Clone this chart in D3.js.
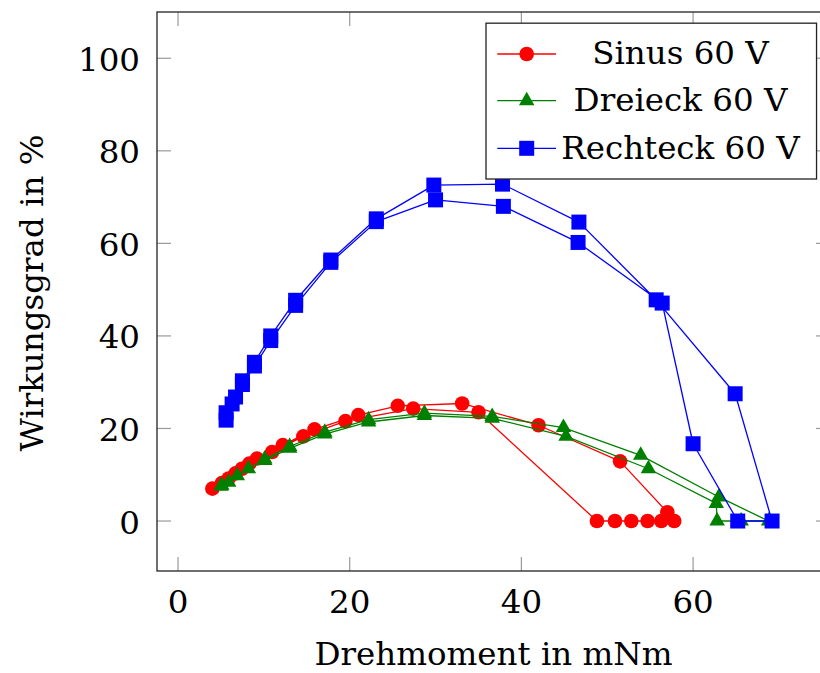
<!DOCTYPE html>
<html>
<head>
<meta charset="utf-8">
<script src="https://cdn.jsdelivr.net/npm/d3@7"></script>
<style>
  html, body { margin: 0; padding: 0; background: #fff; }
  svg { display: block; }
  text { font-family: "DejaVu Serif", serif; fill: #000; }
</style>
</head>
<body>
<svg id="chart" width="820" height="673"></svg>
<script>
// Wirkungsgrad über Drehmoment, je Signalform bei 60 V (Hin- und Rückmessung)
const sinusTorque = [4.0, 5.9, 7.45, 9.2, 12.2, 15.9, 21.0, 25.6, 33.1, 42.0, 51.5, 57.0,
                     57.8, 56.3, 54.7, 52.8, 50.9, 48.8, 35.0, 27.4, 19.5, 14.6, 10.95, 8.3, 6.7, 5.1];
const sinusEff    = [7.0, 9.2, 11.3, 13.5, 16.4, 19.8, 22.9, 24.9, 25.4, 20.7, 12.9, 1.9,
                     0, 0, 0, 0, 0, 0, 23.5, 24.3, 21.6, 18.3, 14.9, 12.4, 10.3, 8.2];

const dreieckTorque = [5.1, 6.9, 10.1, 13.0, 17.1, 22.2, 28.7, 36.6, 44.9, 53.9, 63.0, 68.8,
                       65.6, 62.8, 62.7, 54.8, 45.2, 36.6, 28.7, 22.2, 17.1, 13.0, 10.1, 8.2, 5.9, 5.0];
const dreieckEff    = [7.7, 9.8, 13.4, 16.1, 19.2, 21.9, 23.3, 22.6, 20.2, 14.2, 5.2, 0,
                       0, 0, 3.8, 11.3, 18.3, 22.2, 22.8, 21.4, 18.8, 15.7, 13.1, 11.3, 8.4, 7.5];

const rechteckTorque = [5.6, 6.3, 7.5, 8.9, 10.8, 13.7, 17.8, 23.1, 29.8, 37.8, 46.7, 55.7, 64.9, 69.2,
                        65.2, 60.0, 56.4, 46.6, 37.9, 30.0, 23.1, 17.8, 13.7, 10.8, 8.9, 7.5, 6.7, 5.6];
const rechteckEff    = [23.4, 25.3, 30.3, 34.3, 40.0, 47.7, 56.4, 65.3, 72.6, 72.8, 64.6, 47.8, 27.5, 0,
                        0, 16.7, 47.1, 60.2, 68.0, 69.4, 64.7, 55.9, 46.6, 39.0, 33.5, 29.5, 26.8, 21.8];

const seriesNames  = ["Sinus 60 V", "Dreieck 60 V", "Rechteck 60 V"];
const seriesColors = ["#ff0000", "#008000", "#0000ff"];
const seriesMarks  = ["circle", "triangle", "square"];

const xTicks = [0, 20, 40, 60];
const yTicks = [0, 20, 40, 60, 80, 100];
const xLabel = "Drehmoment in mNm";
const yLabel = "Wirkungsgrad in %";

// ---- layout ----
const plot = { left: 157, top: 12, right: 830, bottom: 571 };
const fontSize = 32.5;

const x = d3.scaleLinear().domain([-2.45, 75.95]).range([plot.left, plot.right]);
const y = d3.scaleLinear().domain([-10.8, 110]).range([plot.bottom, plot.top]);

const svg = d3.select("#chart");

const series = [
  { name: seriesNames[0], color: seriesColors[0], mark: seriesMarks[0],
    pts: sinusTorque.map((t, i) => [t, sinusEff[i]]) },
  { name: seriesNames[1], color: seriesColors[1], mark: seriesMarks[1],
    pts: dreieckTorque.map((t, i) => [t, dreieckEff[i]]) },
  { name: seriesNames[2], color: seriesColors[2], mark: seriesMarks[2],
    pts: rechteckTorque.map((t, i) => [t, rechteckEff[i]]) }
];

const symbolFor = {
  circle: d3.symbol().type(d3.symbolCircle).size(Math.PI * 7.3 * 7.3),
  square: d3.symbol().type(d3.symbolSquare).size(15 * 15),
  triangle: d3.symbol().type(d3.symbolTriangle).size(Math.sqrt(3) / 4 * 15.5 * 15.5)
};

// ---- ticks (inward, on all four sides) ----
const tickLen = 14;
const ticks = svg.append("g").attr("stroke", "#9a9a9a").attr("stroke-width", 1.2);
xTicks.forEach(v => {
  ticks.append("line").attr("x1", x(v)).attr("x2", x(v)).attr("y1", plot.bottom).attr("y2", plot.bottom - tickLen);
  ticks.append("line").attr("x1", x(v)).attr("x2", x(v)).attr("y1", plot.top).attr("y2", plot.top + tickLen);
});
yTicks.forEach(v => {
  ticks.append("line").attr("x1", plot.left).attr("x2", plot.left + tickLen).attr("y1", y(v)).attr("y2", y(v));
  ticks.append("line").attr("x1", plot.right).attr("x2", plot.right - tickLen).attr("y1", y(v)).attr("y2", y(v));
});

// ---- tick labels ----
svg.append("g").selectAll("text").data(xTicks).join("text")
  .attr("x", d => x(d)).attr("y", plot.bottom + 42.3)
  .attr("text-anchor", "middle").attr("font-size", fontSize)
  .text(d => d);
svg.append("g").selectAll("text").data(yTicks).join("text")
  .attr("x", 140).attr("y", d => y(d) + 12.5)
  .attr("text-anchor", "end").attr("font-size", fontSize)
  .text(d => d);

// ---- axis titles ----
svg.append("text")
  .attr("x", (plot.left + plot.right) / 2).attr("y", 664.5)
  .attr("text-anchor", "middle").attr("font-size", fontSize)
  .text(xLabel);
svg.append("text")
  .attr("transform", `translate(42.5, ${(plot.top + plot.bottom) / 2 + 1.5}) rotate(-90)`)
  .attr("text-anchor", "middle").attr("font-size", fontSize)
  .text(yLabel);

// ---- data: line first, then its markers, series drawn in order ----
const line = d3.line().x(d => x(d[0])).y(d => y(d[1]));
series.forEach(s => {
  const g = svg.append("g");
  g.append("path").datum(s.pts)
    .attr("d", line).attr("fill", "none")
    .attr("stroke", s.color).attr("stroke-width", 1.3).attr("stroke-linejoin", "round");
  g.selectAll("path.mark").data(s.pts).join("path")
    .attr("class", "mark")
    .attr("d", symbolFor[s.mark])
    .attr("transform", d => `translate(${x(d[0])},${y(d[1])})`)
    .attr("fill", s.color);
});

// ---- frame ----
svg.append("rect")
  .attr("x", plot.left).attr("y", plot.top)
  .attr("width", plot.right - plot.left).attr("height", plot.bottom - plot.top)
  .attr("fill", "none").attr("stroke", "#222").attr("stroke-width", 1.3);

// ---- legend (north east) ----
const W = plot.right - plot.left, H = plot.bottom - plot.top;
const legRight = plot.right - 0.02 * W;
const legTop = plot.top + 0.02 * H;
const legLeft = 486, legBottom = 179;
const legend = svg.append("g");
legend.append("rect")
  .attr("x", legLeft).attr("y", legTop)
  .attr("width", legRight - legLeft).attr("height", legBottom - legTop)
  .attr("fill", "#fff").attr("stroke", "#222").attr("stroke-width", 1.3);
const rowY = [54, 100.7, 148.3];
series.forEach((s, i) => {
  const cy = rowY[i];
  legend.append("line")
    .attr("x1", 497.3).attr("x2", 556).attr("y1", cy).attr("y2", cy)
    .attr("stroke", s.color).attr("stroke-width", 1.3);
  legend.append("path")
    .attr("d", symbolFor[s.mark])
    .attr("transform", `translate(526.7,${cy})`)
    .attr("fill", s.color);
  legend.append("text")
    .attr("x", 680.5).attr("y", cy + 10.3)
    .attr("text-anchor", "middle").attr("font-size", fontSize)
    .text(s.name);
});
</script>
</body>
</html>
